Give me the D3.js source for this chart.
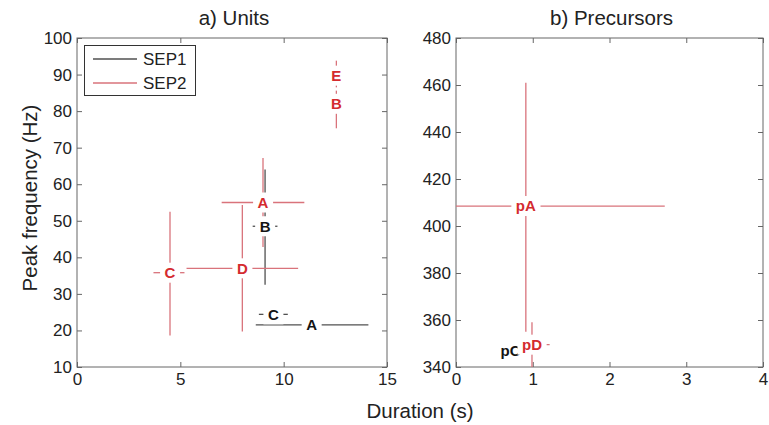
<!DOCTYPE html>
<html><head><meta charset="utf-8">
<script src="https://cdn.jsdelivr.net/npm/d3@7"></script>
<style>body{margin:0;background:#fff}svg{display:block}text{font-family:"Liberation Sans",Arial,sans-serif}</style>
</head><body><svg id="c" width="769" height="425"></svg>
<script>
// ---------- data ----------
// Panel a) Units
const unitLabels1 = ["A", "B", "C"];           // SEP1
const unitDur1    = [11.35, 9.1, 9.5];
const unitDurLo1  = [8.65, 8.5, 8.8];
const unitDurHi1  = [14.1, 9.7, 10.2];
const unitFreq1   = [21.5, 48.5, 24.4];
const unitFreqLo1 = [20.8, 32.5, 23.5];
const unitFreqHi1 = [22.2, 64.0, 25.3];

const unitLabels2 = ["A", "B", "C", "D", "E"];  // SEP2
const unitDur2    = [9.0, 12.55, 4.5, 8.0, 12.55];
const unitDurLo2  = [7.0, 12.4, 3.7, 5.3, 12.4];
const unitDurHi2  = [11.0, 12.7, 5.2, 10.7, 12.7];
const unitFreq2   = [55.0, 82.0, 35.8, 37.0, 89.7];
const unitFreqLo2 = [42.8, 75.3, 18.6, 19.7, 86.5];
const unitFreqHi2 = [67.2, 85.6, 52.5, 54.3, 93.8];

// Panel b) Precursors
const precLabels1 = ["pC"];                     // SEP1
const precDur1    = [0.71];
const precDurLo1  = [0.62];
const precDurHi1  = [0.8];
const precFreq1   = [347.0];
const precFreqLo1 = [345.5];
const precFreqHi1 = [348.5];

const precLabels2 = ["pA", "pD"];               // SEP2
const precDur2    = [0.91, 0.99];
const precDurLo2  = [-0.1, 0.8];
const precDurHi2  = [2.72, 1.22];
const precFreq2   = [408.5, 349.5];
const precFreqLo2 = [355.0, 336.0];
const precFreqHi2 = [461.0, 359.0];

const xTicksA = [0, 5, 10, 15];
const yTicksA = [10, 20, 30, 40, 50, 60, 70, 80, 90, 100];
const xTicksB = [0, 1, 2, 3, 4];
const yTicksB = [340, 360, 380, 400, 420, 440, 460, 480];
const seriesNames = ["SEP1", "SEP2"];

// ---------- styles ----------
const lineCol = ["#505050", "#d9737b"];
const textCol = ["#141414", "#d42b2f"];
const axisCol = "#666";

const svg = d3.select("#c");
const plotTop = 38, plotBottom = 367;

function series(labels, x, xlo, xhi, y, ylo, yhi) {
  return labels.map((l, i) => ({label: l, x: x[i], xlo: xlo[i], xhi: xhi[i], y: y[i], ylo: ylo[i], yhi: yhi[i]}));
}

function panel(id, left, right, xDom, yDom, xTicks, yTicks, title, groups) {
  const x = d3.scaleLinear().domain(xDom).range([left, right]);
  const y = d3.scaleLinear().domain(yDom).range([plotBottom, plotTop]);
  const g = svg.append("g");
  svg.append("clipPath").attr("id", id).append("rect")
    .attr("x", left).attr("y", plotTop).attr("width", right - left).attr("height", plotBottom - plotTop);

  const fs = "17px";
  const fmt = d3.format("d");
  const ab = g.append("g").attr("transform", `translate(0,${plotBottom})`)
    .call(d3.axisBottom(x).tickValues(xTicks).tickFormat(fmt).tickSize(-5).tickSizeOuter(0).tickPadding(6));
  const at = g.append("g").attr("transform", `translate(0,${plotTop})`)
    .call(d3.axisTop(x).tickValues(xTicks).tickSize(-5).tickSizeOuter(0).tickFormat(""));
  const al = g.append("g").attr("transform", `translate(${left},0)`)
    .call(d3.axisLeft(y).tickValues(yTicks).tickFormat(fmt).tickSize(-5).tickSizeOuter(0).tickPadding(5));
  const ar = g.append("g").attr("transform", `translate(${right},0)`)
    .call(d3.axisRight(y).tickValues(yTicks).tickSize(-5).tickSizeOuter(0).tickFormat(""));
  [ab, at, al, ar].forEach(a => {
    a.select(".domain").remove();
    a.selectAll("line").attr("stroke", axisCol);
    a.selectAll("text").attr("font-size", fs).attr("fill", "#222")
      .attr("font-family", "Liberation Sans, Arial, sans-serif");
  });
  g.append("rect").attr("x", left).attr("y", plotTop).attr("width", right - left).attr("height", plotBottom - plotTop)
    .attr("fill", "none").attr("stroke", axisCol).attr("stroke-width", 1);

  g.append("text").attr("x", (left + right) / 2 + 2).attr("y", 25).attr("text-anchor", "middle")
    .attr("font-size", "20.5px").attr("fill", "#222").text(title);

  const pg = g.append("g").attr("clip-path", `url(#${id})`);
  groups.forEach((pts, si) => {
    pts.forEach(p => {
      pg.append("line").attr("x1", x(p.xlo)).attr("x2", x(p.xhi)).attr("y1", y(p.y)).attr("y2", y(p.y))
        .attr("stroke", lineCol[si]).attr("stroke-width", 1.3);
      pg.append("line").attr("x1", x(p.x)).attr("x2", x(p.x)).attr("y1", y(p.ylo)).attr("y2", y(p.yhi))
        .attr("stroke", lineCol[si]).attr("stroke-width", 1.3);
    });
  });
  groups.forEach((pts, si) => {
    pts.forEach(p => {
      const r = pg.append("rect").attr("fill", "#fff");
      const t = pg.append("text").attr("x", x(p.x)).attr("y", y(p.y)).attr("dy", "0.36em")
        .attr("text-anchor", "middle").attr("font-size", "15px").attr("font-weight", "bold")
        .attr("fill", textCol[si]).text(p.label);
      const bb = t.node().getBBox();
      r.attr("x", bb.x - 4.5).attr("width", bb.width + 9)
        .attr("y", y(p.y) - 10).attr("height", 20);
    });
  });
  return {x, y};
}

panel("clipA", 77, 387, [0, 15], [10, 100], xTicksA, yTicksA, "a) Units", [
  series(unitLabels1, unitDur1, unitDurLo1, unitDurHi1, unitFreq1, unitFreqLo1, unitFreqHi1),
  series(unitLabels2, unitDur2, unitDurLo2, unitDurHi2, unitFreq2, unitFreqLo2, unitFreqHi2)
]);
panel("clipB", 456, 763, [0, 4], [340, 480], xTicksB, yTicksB, "b) Precursors", [
  series(precLabels1, precDur1, precDurLo1, precDurHi1, precFreq1, precFreqLo1, precFreqHi1),
  series(precLabels2, precDur2, precDurLo2, precDurHi2, precFreq2, precFreqLo2, precFreqHi2)
]);

// legend
const lg = svg.append("g");
lg.append("rect").attr("x", 84.5).attr("y", 45.5).attr("width", 111).attr("height", 50)
  .attr("fill", "#fff").attr("stroke", "#333").attr("stroke-width", 1);
seriesNames.forEach((n, i) => {
  const yy = 59 + i * 24;
  lg.append("line").attr("x1", 93).attr("x2", 137).attr("y1", yy).attr("y2", yy)
    .attr("stroke", lineCol[i]).attr("stroke-width", 1.3);
  lg.append("text").attr("x", 143).attr("y", yy).attr("dy", "0.36em")
    .attr("font-size", "17px").attr("fill", "#222").text(n);
});

// axis labels
svg.append("text").attr("x", 420).attr("y", 418).attr("text-anchor", "middle")
  .attr("font-size", "20.5px").attr("fill", "#222").text("Duration (s)");
svg.append("text").attr("transform", "translate(37,198) rotate(-90)").attr("text-anchor", "middle")
  .attr("font-size", "20.5px").attr("fill", "#222").text("Peak frequency (Hz)");
</script></body></html>
